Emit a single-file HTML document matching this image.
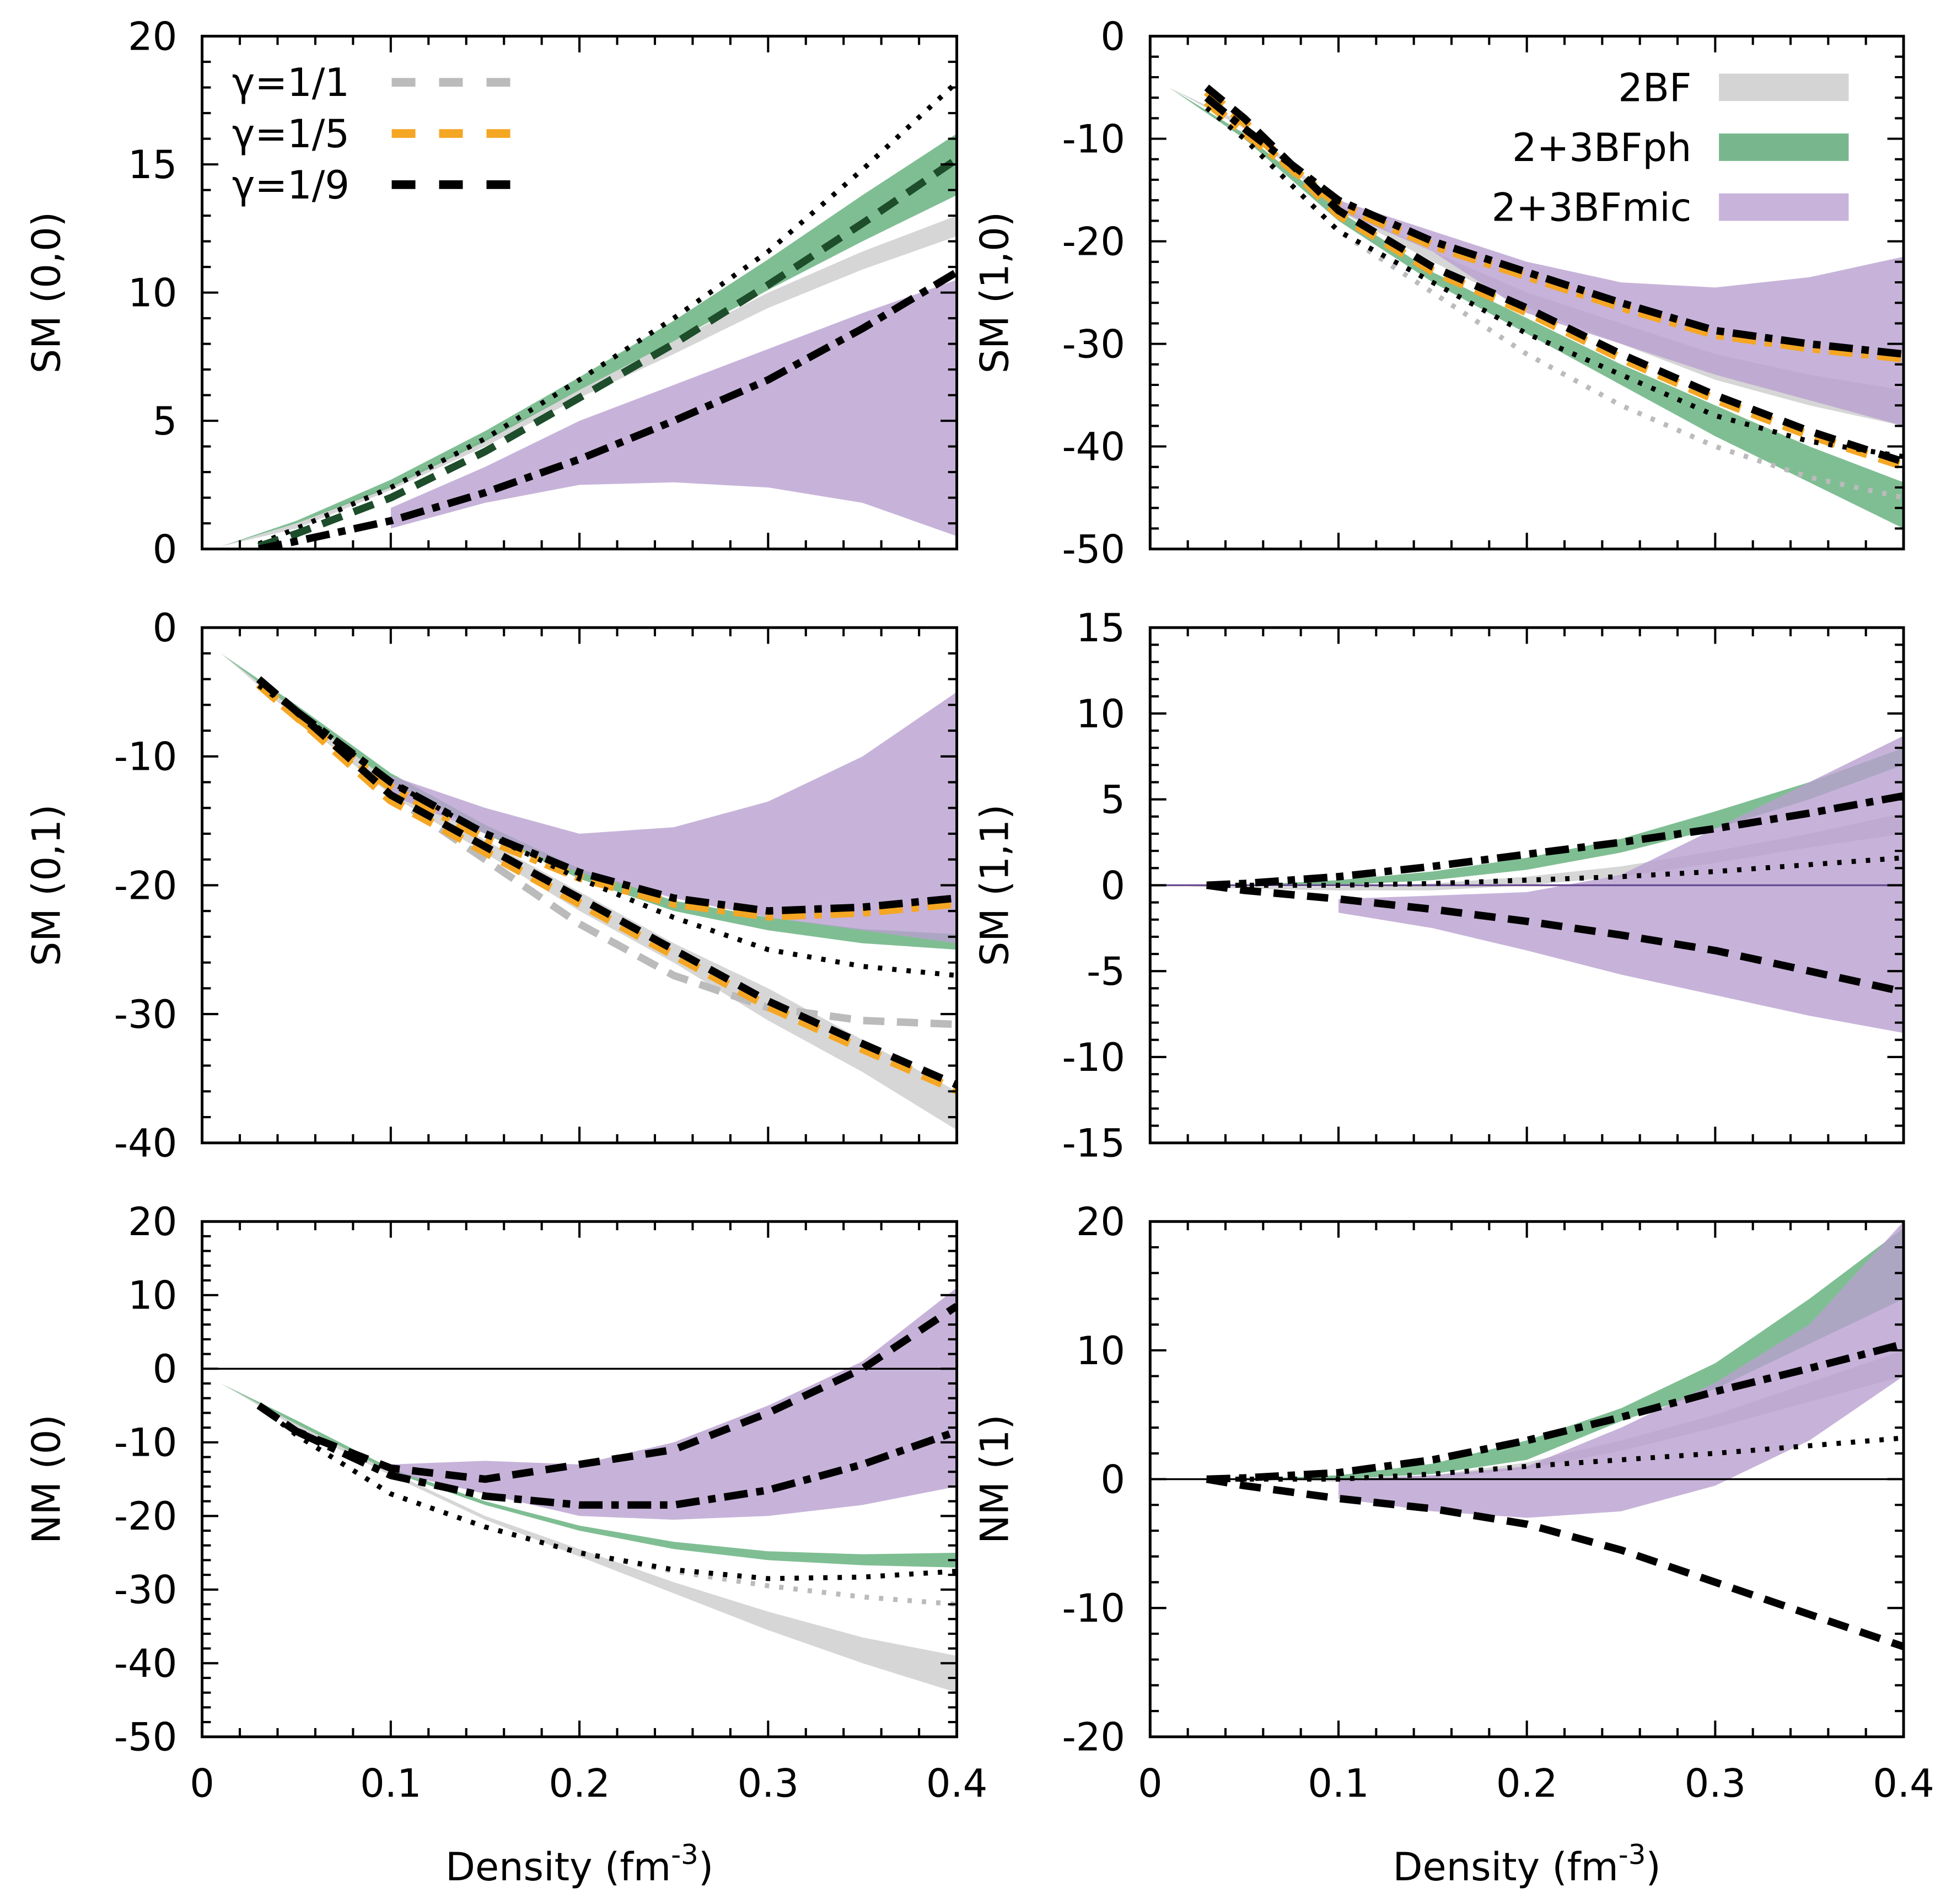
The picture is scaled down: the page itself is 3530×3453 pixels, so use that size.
<!DOCTYPE html>
<html><head><meta charset="utf-8">
<style>
html,body{margin:0;padding:0;background:#fff;}
svg{display:block;}
text{font-family:"DejaVu Sans","Liberation Sans",sans-serif;fill:#000;}
</style></head>
<body>
<svg id="fig" xmlns="http://www.w3.org/2000/svg" width="3530" height="3453" viewBox="0 0 1560 1526">
<rect x="0" y="0" width="1560" height="1526" fill="#fff"/>
<g id="root"></g>
</svg>
<script>
const NS="http://www.w3.org/2000/svg";
// ---------- DATA ----------
const dens=[0.01,0.05,0.1,0.15,0.2,0.25,0.3,0.35,0.4];
const densMic=[0.1,0.15,0.2,0.25,0.3,0.35,0.4];
const densL=[0.03,0.05,0.1,0.15,0.2,0.25,0.3,0.35,0.4];

// Panel 1 SM(0,0)
const p1GrayLo=[0.1,0.8,2.3,4.0,5.9,7.6,9.4,10.9,12.2];
const p1GrayHi=[0.1,1.0,2.5,4.3,6.2,8.1,10.0,11.6,13.0];
const p1GreenLo=[0.1,1.0,2.4,4.2,6.2,8.1,10.1,12.0,13.8];
const p1GreenHi=[0.1,1.1,2.7,4.6,6.7,8.9,11.3,13.8,16.2];
const p1MicLo=[0.8,1.8,2.5,2.6,2.4,1.8,0.5];
const p1MicHi=[1.6,3.2,5.0,6.4,7.8,9.2,10.5];
const p1Dot=[0.2,0.8,2.4,4.3,6.6,9.0,11.6,14.8,18.2];
const p1Dash=[0.1,0.6,2.0,3.8,5.9,8.0,10.3,12.7,15.2];
const p1DashDot=[0.0,0.3,1.1,2.2,3.5,5.0,6.6,8.6,10.8];

// Panel 2 SM(1,0)
const p2GrayLo=[-5,-9,-17,-22,-26.5,-30,-33.5,-36,-38];
const p2GrayHi=[-5,-8.5,-16.5,-21,-25,-28,-31,-33,-34.5];
const p2GreenLo=[-5,-10,-18,-24,-29,-34,-39,-43.5,-48];
const p2GreenHi=[-5,-9.5,-17,-23,-27.5,-32,-36,-40,-43.5];
const p2MicLo=[-17,-21,-27,-30,-33,-35.5,-38];
const p2MicHi=[-16,-19,-22,-24,-24.5,-23.5,-21.5];
const p2Dot=[-7,-10,-19,-24,-29,-33,-37,-39.5,-41];
const p2Dash=[-5,-8,-17,-22.5,-26.5,-31,-35,-38.5,-41.5];
const p2DashDot=[-6,-9,-16,-20,-23,-26,-28.7,-30,-31];
const p2GrayDot=[-7,-10,-19,-25,-31,-36,-40,-43,-45];

// Panel 3 SM(0,1)
const p3GrayLo=[-2,-7,-13,-17.5,-22,-26,-30.5,-34.5,-39];
const p3GrayHi=[-2,-6.5,-12,-16.5,-20.5,-24.5,-28,-32,-36];
const p3GreenLo=[-2,-6.5,-12,-16,-19.5,-22,-23.5,-24.5,-25];
const p3GreenHi=[-2,-6,-11.3,-15.3,-18.7,-21.2,-22.5,-23.4,-23.8];
const p3MicLo=[-13,-16,-19,-21,-22.5,-23.5,-24.5];
const p3MicHi=[-11.5,-14,-16,-15.5,-13.5,-10,-5];
const p3Dot=[-4.5,-6.5,-12,-16,-19.5,-22.5,-25,-26.3,-27];
const p3Dash=[-4,-6.5,-13,-17,-21,-25,-29,-32.3,-35.5];
const p3DashDot=[-4,-6.5,-12,-16,-19,-21,-22,-21.7,-21];
const p3GrayDash=[-4,-6.5,-13,-18,-23,-27,-29.5,-30.5,-30.8];

// Panel 4 SM(1,1)
const p4GrayLo=[0,-0.2,-0.3,-0.3,0,0.5,1.3,2.2,3.0];
const p4GrayHi=[0,-0.1,-0.1,0.1,0.5,1.1,2.0,3.0,4.2];
const p4GreenLo=[0,0,0,0.3,0.9,1.9,3.3,5.0,7.0];
const p4GreenHi=[0,0,0.3,0.8,1.6,2.7,4.3,6.0,8.0];
const p4MicLo=[-1.6,-2.5,-3.8,-5.2,-6.4,-7.6,-8.6];
const p4MicHi=[-0.8,-0.6,-0.4,0.6,3.3,6.0,8.7];
const p4Dot=[0,0,0,0.1,0.3,0.5,0.8,1.2,1.6];
const p4Dash=[0,-0.3,-0.8,-1.4,-2.1,-2.9,-3.8,-5.0,-6.2];
const p4DashDot=[0,0.1,0.5,1.1,1.8,2.5,3.3,4.2,5.2];

// Panel 5 NM(0)
const p5GrayLo=[-2,-8,-14.5,-20.5,-25.5,-30.5,-35.5,-40,-44];
const p5GrayHi=[-2,-7.5,-14,-20,-24.5,-29,-33,-36.5,-39];
const p5GreenLo=[-2,-7.5,-14,-18.5,-22,-24.5,-26,-26.7,-27];
const p5GreenHi=[-2,-7,-13.5,-18,-21.3,-23.5,-24.8,-25.2,-25];
const p5MicLo=[-14,-17,-20,-20.5,-20,-18.5,-16];
const p5MicHi=[-13,-12.5,-13,-10,-5,1,11];
const p5Dot=[-5,-9,-17,-21.5,-25,-27.3,-28.5,-28.3,-27.5];
const p5Dash=[-5,-8.5,-13.5,-15,-13,-11,-6,0,8.5];
const p5DashDot=[-5,-8.5,-14.5,-17.3,-18.5,-18.5,-16.5,-13,-8.5];
const p5GrayDot=[-5,-9,-17,-21.5,-25,-27.5,-29.5,-31,-32];

// Panel 6 NM(1)
const p6GrayLo=[0,0,-0.2,0,0.8,2.2,4.0,6.0,8.0];
const p6GrayHi=[0,0,0,0.3,1.3,3.0,5.0,7.5,10.0];
const p6GreenLo=[0,0,0,0.4,1.5,4.5,7.0,10.5,14.0];
const p6GreenHi=[0,0,0.3,1.2,3.0,5.5,9.0,14.0,19.5];
const p6MicLo=[-1.5,-2.5,-3,-2.5,-0.5,3,8];
const p6MicHi=[0,0.3,1,4,7.5,12,20];
const p6Dot=[0,0,0,0.4,1,1.5,2,2.6,3.2];
const p6Dash=[0,-0.5,-1.5,-2.3,-3.5,-5.5,-8,-10.5,-13];
const p6DashDot=[0,0.1,0.5,1.5,3,4.8,6.8,8.6,10.5];

const xTicks=[0,0.1,0.2,0.3,0.4];
const xTickLabels=["0","0.1","0.2","0.3","0.4"];

// ---------- LAYOUT ----------
const root=document.getElementById('root');
function el(tag,attrs,parent){const e=document.createElementNS(NS,tag);for(const k in attrs)e.setAttribute(k,attrs[k]);(parent||root).appendChild(e);return e;}

const panels=[
 {id:"sm00",x0:162,x1:767,y0:29,y1:440,ymin:0,ymax:20,step:5,label:"SM (0,0)"},
 {id:"sm10",x0:922,x1:1526,y0:29,y1:440,ymin:-50,ymax:0,step:10,label:"SM (1,0)"},
 {id:"sm01",x0:162,x1:767,y0:503,y1:916,ymin:-40,ymax:0,step:10,label:"SM (0,1)"},
 {id:"sm11",x0:922,x1:1526,y0:503,y1:916,ymin:-15,ymax:15,step:5,label:"SM (1,1)"},
 {id:"nm0",x0:162,x1:767,y0:979,y1:1392,ymin:-50,ymax:20,step:10,label:"NM (0)"},
 {id:"nm1",x0:922,x1:1526,y0:979,y1:1392,ymin:-20,ymax:20,step:10,label:"NM (1)"}
];

function sx(p,v){return p.x0+(v-0)/(0.4)*(p.x1-p.x0);}
function sy(p,v){return p.y1-(v-p.ymin)/(p.ymax-p.ymin)*(p.y1-p.y0);}

function band(p,g,xs,lo,hi,color,op,name){
  let d="M";
  for(let i=0;i<xs.length;i++)d+=(i?"L":"")+sx(p,xs[i]).toFixed(1)+","+sy(p,hi[i]).toFixed(1);
  for(let i=xs.length-1;i>=0;i--)d+="L"+sx(p,xs[i]).toFixed(1)+","+sy(p,lo[i]).toFixed(1);
  d+="Z";
  const e=el("path",{d:d,fill:color,"fill-opacity":op},g);
  
  
}
function line(p,g,xs,ys,color,w,dash,name){
  let d="";
  for(let i=0;i<xs.length;i++)d+=(i?"L":"M")+sx(p,xs[i]).toFixed(1)+","+sy(p,ys[i]).toFixed(1);
  const e=el("path",{d:d,fill:"none",stroke:color,"stroke-width":w,"stroke-dasharray":dash,"stroke-linejoin":"round"},g);
  
  
}
const GRAY="#d4d4d4",GREEN="#5fae78",MIC="#b9a0d0";
const DOT="3.5,8",DASH="17,10",DD="19,7,6,7";
const FS=31;

function drawAxes(p,g){
  const clip=el("clipPath",{id:"clip-"+p.id},g);
  el("rect",{x:p.x0,y:p.y0,width:p.x1-p.x0,height:p.y1-p.y0},clip);
}
function drawFrame(p,g){
  for(let v=0;v<=0.4001;v+=0.02){
    const X=sx(p,v);const major=Math.abs(v*10-Math.round(v*10))<1e-6;
    const L=major?13:7;
    el("line",{x1:X,y1:p.y1,x2:X,y2:p.y1-L,stroke:"#000","stroke-width":1.8},g);
    el("line",{x1:X,y1:p.y0,x2:X,y2:p.y0+L,stroke:"#000","stroke-width":1.8},g);
  }
  const minor=p.step/5;
  for(let v=p.ymin;v<=p.ymax+1e-6;v+=minor){
    const Y=sy(p,v);const major=Math.abs((v-p.ymin)/p.step-Math.round((v-p.ymin)/p.step))<1e-6;
    const L=major?13:7;
    el("line",{x1:p.x0,y1:Y,x2:p.x0+L,y2:Y,stroke:"#000","stroke-width":1.8},g);
    el("line",{x1:p.x1,y1:Y,x2:p.x1-L,y2:Y,stroke:"#000","stroke-width":1.8},g);
  }
  const fr=el("rect",{x:p.x0,y:p.y0,width:p.x1-p.x0,height:p.y1-p.y0,fill:"none",stroke:"#000","stroke-width":2.2},g);
  
  
  for(let v=p.ymin;v<=p.ymax+1e-6;v+=p.step){
    const t=el("text",{x:p.x0-20,y:sy(p,v)+11,"text-anchor":"end","font-size":FS},g);
    t.textContent=String(Math.round(v));
    
    
  }
  const yl=el("text",{x:0,y:0,"text-anchor":"middle","font-size":FS,transform:"translate("+(p.x0-114)+","+((p.y0+p.y1)/2)+") rotate(-90)"},g);
  yl.textContent=p.label;
  
  
}

const series={
 sm00:{g:[p1GrayLo,p1GrayHi],gr:[p1GreenLo,p1GreenHi],m:[p1MicLo,p1MicHi],dot:p1Dot,dash:p1Dash,dd:p1DashDot},
 sm10:{g:[p2GrayLo,p2GrayHi],gr:[p2GreenLo,p2GreenHi],m:[p2MicLo,p2MicHi],dot:p2Dot,dash:p2Dash,dd:p2DashDot},
 sm01:{g:[p3GrayLo,p3GrayHi],gr:[p3GreenLo,p3GreenHi],m:[p3MicLo,p3MicHi],dot:p3Dot,dash:p3Dash,dd:p3DashDot},
 sm11:{g:[p4GrayLo,p4GrayHi],gr:[p4GreenLo,p4GreenHi],m:[p4MicLo,p4MicHi],dot:p4Dot,dash:p4Dash,dd:p4DashDot},
 nm0:{g:[p5GrayLo,p5GrayHi],gr:[p5GreenLo,p5GreenHi],m:[p5MicLo,p5MicHi],dot:p5Dot,dash:p5Dash,dd:p5DashDot},
 nm1:{g:[p6GrayLo,p6GrayHi],gr:[p6GreenLo,p6GreenHi],m:[p6MicLo,p6MicHi],dot:p6Dot,dash:p6Dash,dd:p6DashDot}
};

panels.forEach(p=>{
  const g=el("g",{});
  
  
  drawAxes(p,g);
  const inner=el("g",{"clip-path":"url(#clip-"+p.id+")"},g);
  const s=series[p.id];
  band(p,inner,dens,s.g[0],s.g[1],GRAY,0.95,"band-2bf");
  band(p,inner,dens,s.gr[0],s.gr[1],GREEN,0.8,"band-2-3bfph");
  band(p,inner,densMic,s.m[0],s.m[1],MIC,0.8,"band-2-3bfmic");
  if(p.id==="sm11"||p.id==="nm0"||p.id==="nm1"){
    const z=el("line",{x1:p.x0,x2:p.x1,y1:sy(p,0),y2:sy(p,0),stroke:p.id==="sm11"?"#6a4c93":"#000","stroke-width":1.5},inner);
    
    
  }
  if(p.id==="sm01")line(p,inner,densL,p3GrayDash,"#bbb",6,DASH,"gamma-1-1-dashed");
  if(p.id==="nm0")line(p,inner,densL,p5GrayDot,"#bbb",4,DOT,"gamma-1-1-dotted");
  if(p.id==="sm10")line(p,inner,densL,p2GrayDot,"#bbb",4,DOT,"gamma-1-1-dotted");
  if(p.id==="sm10"||p.id==="sm01"){
    line(p,inner,densL,s.dash.map(v=>v-0.4),"#f5a623",7,DASH,"gamma-1-5-dashed");
    line(p,inner,densL,s.dd.map(v=>v-0.4),"#f5a623",7,DD,"gamma-1-5-dashdot");
  }
  line(p,inner,densL,s.dot,"#000",4,DOT,"gamma-1-9-dotted");
  line(p,inner,densL,s.dash,p.id==="sm00"?"#1d4d2a":"#000",6,DASH,"gamma-1-9-dashed");
  line(p,inner,densL,s.dd,"#000",6,DD,"gamma-1-9-dashdot");
  drawFrame(p,g);
  if(p.y1>1300){
    xTicks.forEach((v,i)=>{
      const t=el("text",{x:sx(p,v),y:p.y1+48,"text-anchor":"middle","font-size":FS},g);
      t.textContent=xTickLabels[i];
      
      
    });
    const xt=el("text",{x:(p.x0+p.x1)/2,y:p.y1+115,"text-anchor":"middle","font-size":FS},g);
    xt.innerHTML='Density (fm<tspan dy="-13" font-size="22">-3</tspan><tspan dy="13">)</tspan>';
    
    
  }
});

// Legend gamma (panel 1)
const gammaLabels=["γ=1/1","γ=1/5","γ=1/9"];
const gammaColors=["#bbb","#f5a623","#000"];
gammaLabels.forEach((lab,i)=>{
  const y=66+i*41;
  const g=el("g",{});
  
  
  const t=el("text",{x:186,y:y+11,"font-size":FS},g);t.textContent=lab;
  el("line",{x1:314,x2:416,y1:y,y2:y,stroke:gammaColors[i],"stroke-width":7,"stroke-dasharray":"19,19"},g);
});
// Legend bands (panel 2)
const bandLabels=["2BF","2+3BFph","2+3BFmic"];
const bandColors=["#d4d4d4","#78b78e","#c8b4da"];
bandLabels.forEach((lab,i)=>{
  const y=70+i*48;
  const g=el("g",{});
  
  
  const t=el("text",{x:1356,y:y+11,"font-size":FS,"text-anchor":"end"},g);t.textContent=lab;
  el("rect",{x:1378,y:y-11,width:104,height:22,fill:bandColors[i]},g);
});
</script>
</body></html>
